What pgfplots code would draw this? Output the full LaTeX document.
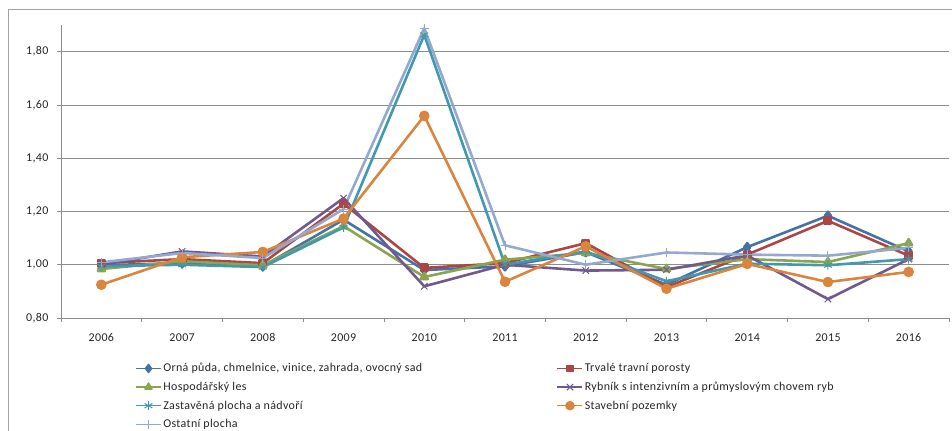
\documentclass[border=0pt]{standalone}
\usepackage{fontspec}
\setmainfont{Carlito}[LetterSpace=3]
\usepackage{pgfplots}
\pgfplotsset{compat=1.18}
\definecolor{c1}{HTML}{4572A7}
\definecolor{c2}{HTML}{AA4643}
\definecolor{c3}{HTML}{89A54E}
\definecolor{c4}{HTML}{71588F}
\definecolor{c5}{HTML}{4198AF}
\definecolor{c6}{HTML}{DB843D}
\definecolor{c7}{HTML}{93A9CF}
\definecolor{gridc}{HTML}{8C8C8C}
\begin{document}
\begin{tikzpicture}
\useasboundingbox (0,0) rectangle (952bp,431bp);
\draw[gridc!80, line width=0.8pt] (8bp,0) -- (8bp,422bp) -- (952bp,422bp);
\begin{axis}[
  at={(61bp,113bp)}, anchor=south west,
  scale only axis, width=888bp, height=293bp,
  xmin=-0.5, xmax=10.5, ymin=0.8, ymax=1.9,
  xtick={0,...,10},
  xticklabels={2006,2007,2008,2009,2010,2011,2012,2013,2014,2015,2016},
  minor xtick={-0.5,0.5,...,10.5},
  ytick={0.8,1.0,1.2,1.4,1.6,1.8},
  axis lines*=left,
  axis line style={gridc, line width=0.8pt},
  ymajorgrids, major grid style={gridc, line width=0.8pt},
  major x tick style={draw=none},
  minor x tick style={gridc, line width=0.8pt},
  major y tick style={gridc, line width=0.8pt},
  tick align=outside, major tick length=4bp, minor tick length=4bp,
  tick label style={font=\fontsize{12}{14}\selectfont, text=black!85},
  xticklabel style={yshift=-8bp},
  yticklabel style={xshift=-5bp},
  /pgf/number format/.cd, fixed, fixed zerofill, precision=2, use comma, assume math mode=true,
  /pgfplots/.cd,
  every axis plot/.append style={line width=2.6pt, line join=round},
  legend columns=2,
  legend cell align=left,
  legend image code/.code={\draw[mark repeat=2,mark phase=2,line width=1.6pt] plot coordinates {(0bp,0bp)(12.5bp,0bp)(25bp,0bp)};},
  legend style={draw=none, fill=none, at={(74bp,-41bp)}, anchor=north west, inner sep=0pt,
    font=\fontsize{12}{14}\selectfont,
    nodes={inner sep=1.5bp, minimum height=18.6bp, text=black!85},
    /tikz/every even column/.append style={column sep=133bp}},
]
% Orna puda
\addplot[c1, mark=diamond*, mark size=4pt, mark options={solid}] coordinates {
(0,0.998)(1,1.006)(2,0.994)(3,1.169)(4,0.980)(5,0.994)(6,1.047)(7,0.925)(8,1.066)(9,1.184)(10,1.050)};
\addlegendentry{Orná půda, chmelnice, vinice, zahrada, ovocný sad}
% Trvale travni porosty
\addplot[c2, mark=square*, mark size=3.2pt] coordinates {
(0,1.006)(1,1.021)(2,1.006)(3,1.229)(4,0.988)(5,1.006)(6,1.081)(7,0.916)(8,1.038)(9,1.165)(10,1.034)};
\addlegendentry{Trvalé travní porosty}
% Hospodarsky les
\addplot[c3, mark=triangle*, mark size=4pt] coordinates {
(0,0.984)(1,1.013)(2,0.998)(3,1.145)(4,0.954)(5,1.019)(6,1.044)(7,0.984)(8,1.021)(9,1.010)(10,1.081)};
\addlegendentry{Hospodářský les}
% Rybnik
\addplot[c4, mark=x, mark size=4.5pt, mark options={line width=1pt}] coordinates {
(0,1.000)(1,1.050)(2,1.031)(3,1.250)(4,0.919)(5,1.000)(6,0.978)(7,0.981)(8,1.035)(9,0.871)(10,1.021)};
\addlegendentry{Rybník s intenzivním a průmyslovým chovem ryb}
% Zastavena plocha
\addplot[c5, mark=asterisk, mark size=4.5pt, mark options={line width=1pt}] coordinates {
(0,0.994)(1,1.000)(2,0.991)(3,1.140)(4,1.863)(5,1.000)(6,1.050)(7,0.938)(8,1.004)(9,0.998)(10,1.021)};
\addlegendentry{Zastavěná plocha a nádvoří}
% Stavebni pozemky
\addplot[c6, mark=*, mark size=4pt] coordinates {
(0,0.925)(1,1.028)(2,1.048)(3,1.173)(4,1.559)(5,0.936)(6,1.069)(7,0.910)(8,1.003)(9,0.935)(10,0.973)};
\addlegendentry{Stavební pozemky}
% Ostatni plocha
\addplot[c7, mark=+, mark size=4.5pt, mark options={line width=1pt}] coordinates {
(0,1.009)(1,1.044)(2,1.025)(3,1.209)(4,1.888)(5,1.073)(6,1.000)(7,1.046)(8,1.038)(9,1.034)(10,1.063)};
\addlegendentry{Ostatní plocha}
\end{axis}
\end{tikzpicture}
\end{document}
